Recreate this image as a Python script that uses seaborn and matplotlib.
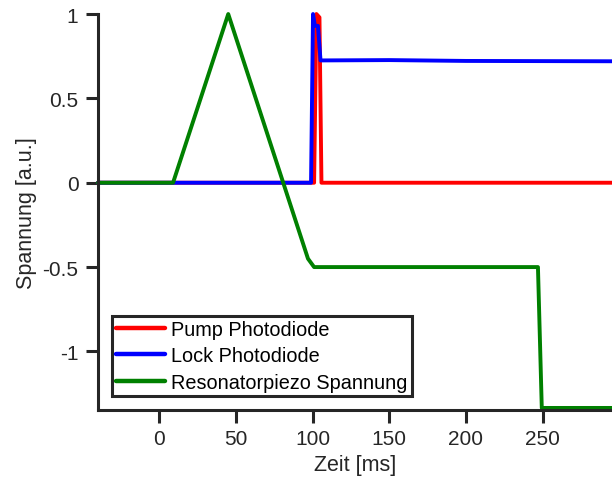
import numpy as np
import pandas as pd
import seaborn as sns
import matplotlib
matplotlib.use("Agg")
import matplotlib.pyplot as plt

# breakpoints (time in ms, voltage in a.u.)
pump_t = [-40, 101.0, 102.5, 104.5, 105.8, 296]
pump_v = [0.0, 0.0, 1.0, 0.98, 0.0, 0.0]

lock_t = [-40, 99.0, 100.3, 101.5, 103.5, 105.2, 150, 200, 296]
lock_v = [0.0, 0.0, 1.0, 0.93, 0.93, 0.725, 0.727, 0.722, 0.72]

piezo_t = [-40, 9.0, 45.0, 97.0, 101.0, 247.0, 249.5, 296]
piezo_v = [0.0, 0.0, 1.0, -0.45, -0.5, -0.5, -1.335, -1.335]

labels = ["Pump Photodiode", "Lock Photodiode", "Resonatorpiezo Spannung"]
colors = ["#ff0000", "#0000ff", "#008000"]

df = pd.concat([
    pd.DataFrame({"t": pump_t, "v": pump_v, "sig": labels[0]}),
    pd.DataFrame({"t": lock_t, "v": lock_v, "sig": labels[1]}),
    pd.DataFrame({"t": piezo_t, "v": piezo_v, "sig": labels[2]}),
])

sns.set_style("white")
plt.rcParams["font.family"] = ["Liberation Sans", "DejaVu Sans"]
dark = "#262626"

fig = plt.figure(figsize=(6.12, 4.85), dpi=100)
ax = fig.add_axes([0.160, 0.153, 0.840, 0.816])

sns.lineplot(data=df, x="t", y="v", hue="sig", hue_order=labels,
             palette=dict(zip(labels, colors)), linewidth=2.8,
             estimator=None, sort=False, ax=ax)
for ln in ax.get_lines():
    ln.set_clip_on(False)

ax.set_xlim(-40, 295.3)
ax.set_ylim(-1.346, 1.0)
ax.set_xticks([0, 50, 100, 150, 200, 250])
ax.set_yticks([-1, -0.5, 0, 0.5, 1])
ax.set_yticklabels(["-1", "-0.5", "0", "0.5", "1"])
ax.set_xlabel("Zeit [ms]", fontsize=15.5, color=dark, labelpad=4)
ax.set_ylabel("Spannung [a.u.]", fontsize=15.5, color=dark, labelpad=4)

for s in ["top", "right"]:
    ax.spines[s].set_visible(False)
for s in ["left", "bottom"]:
    ax.spines[s].set_color(dark)
    ax.spines[s].set_linewidth(2.2)
ax.tick_params(direction="out", length=9, width=2.2, color=dark, pad=5,
               labelsize=15, labelcolor=dark, bottom=True, left=True)

leg = ax.legend(loc="lower left", bbox_to_anchor=(0.027, 0.035), fontsize=14.3,
                frameon=True, fancybox=False, handlelength=2.5,
                borderpad=0.2, labelspacing=0.38, handletextpad=0.3,
                borderaxespad=0)
leg.get_frame().set_edgecolor(dark)
leg.get_frame().set_linewidth(2.2)
leg.get_frame().set_alpha(1)
for h in leg.get_lines():
    h.set_linewidth(3.2)
for t in leg.get_texts():
    t.set_color("black")

fig.savefig("out.png", dpi=100)
